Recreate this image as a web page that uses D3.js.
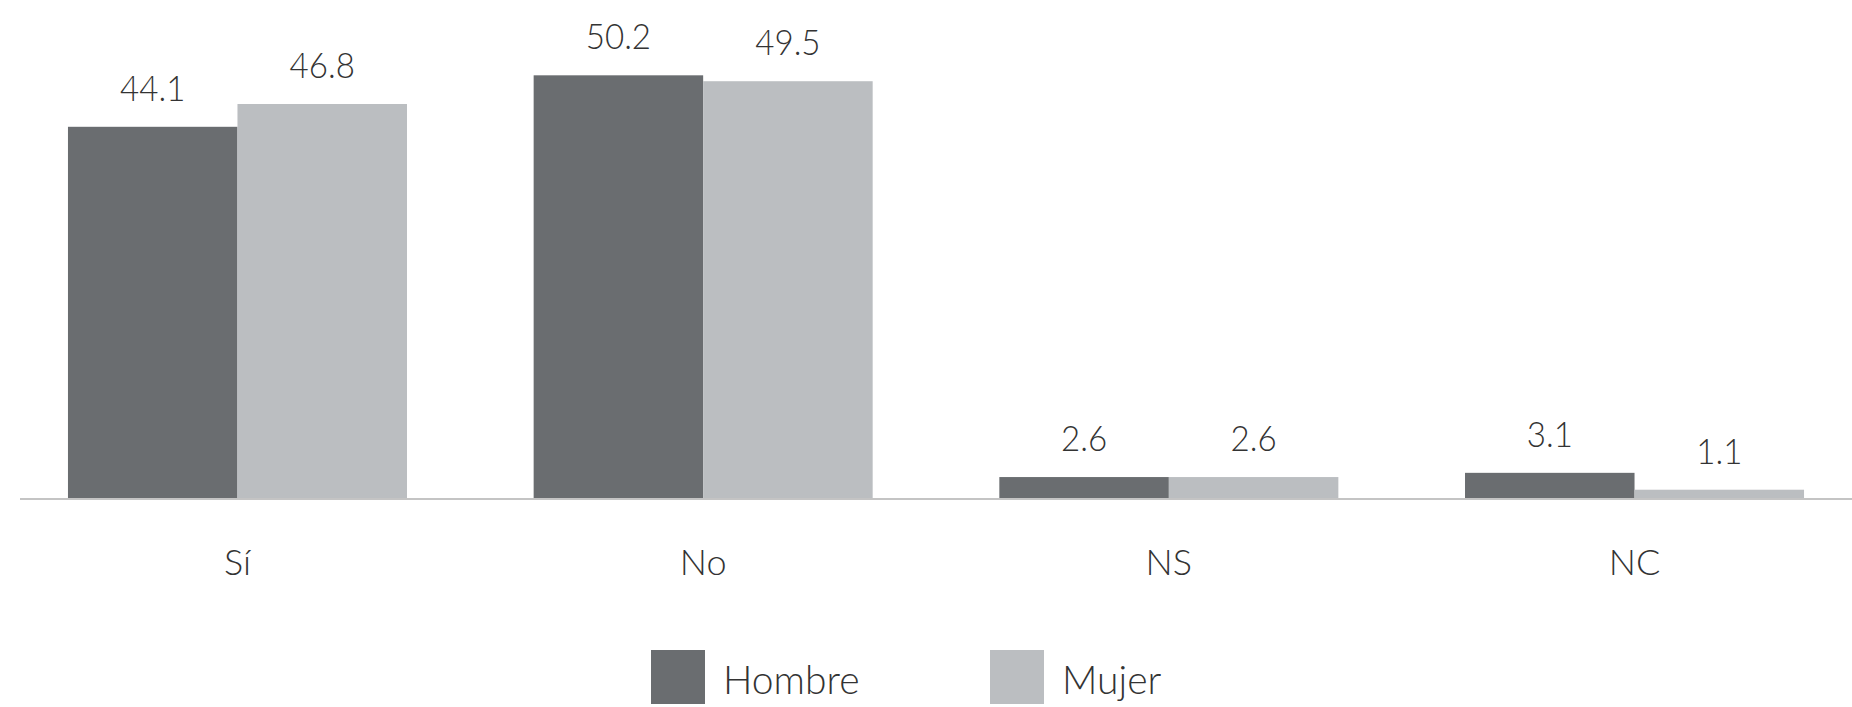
<!DOCTYPE html>
<html>
<head>
<meta charset="utf-8">
<script src="https://cdn.jsdelivr.net/npm/d3@7"></script>
<style>
  html, body { margin: 0; padding: 0; background: #fff; }
  svg { display: block; }
  text { font-family: Lato, "Open Sans", sans-serif; font-weight: 300; fill: #333; }
</style>
</head>
<body>
<svg id="chart" width="1852" height="707"></svg>
<script>
const categories = ["Sí", "No", "NS", "NC"];
const seriesNames = ["Hombre", "Mujer"];
const hombre = [44.1, 50.2, 2.6, 3.1];
const mujer = [46.8, 49.5, 2.6, 1.1];
const valueLabels = { Hombre: ["44.1", "50.2", "2.6", "3.1"], Mujer: ["46.8", "49.5", "2.6", "1.1"] };

const colors = { Hombre: "#6a6d70", Mujer: "#bbbec1" };

const W = 1852, H = 707;
const baseY = 499;
const svg = d3.select("#chart");

const x0 = d3.scaleBand().domain(categories).range([20, 1852]).paddingInner(0.272).paddingOuter(0.103);
const x1 = d3.scaleBand().domain(seriesNames).range([0, x0.bandwidth()]).padding(0);
const y = d3.scaleLinear().domain([0, 55]).range([baseY, baseY - 55 * 8.44]);

const rows = categories.map((c, i) => ({
  cat: c,
  vals: [
    { s: "Hombre", v: hombre[i], label: valueLabels.Hombre[i] },
    { s: "Mujer", v: mujer[i], label: valueLabels.Mujer[i] }
  ]
}));

const g = svg.append("g");
const groups = g.selectAll("g.grp").data(rows).join("g")
  .attr("class", "grp")
  .attr("transform", d => `translate(${x0(d.cat)},0)`);

groups.selectAll("rect").data(d => d.vals).join("rect")
  .attr("x", d => x1(d.s))
  .attr("y", d => y(d.v))
  .attr("width", x1.bandwidth())
  .attr("height", d => y(0) - y(d.v))
  .attr("fill", d => colors[d.s]);

groups.selectAll("text.val").data(d => d.vals).join("text")
  .attr("class", "val")
  .attr("text-anchor", "middle")
  .attr("font-size", 36)
  .attr("transform", d => `translate(${x1(d.s) + x1.bandwidth() / 2},${y(d.v) - 26}) scale(0.92,1)`)
  .text(d => d.label);

// x axis
const xAxis = d3.axisBottom(x0).tickSize(0).tickPadding(0);
const ax = svg.append("g").attr("transform", `translate(0,${baseY})`).call(xAxis);
ax.select(".domain").attr("stroke", "#c4c4c4").attr("stroke-width", 2).attr("d", "M20,0H1852");
ax.selectAll(".tick text")
  .attr("dy", null)
  .attr("y", 76)
  .attr("font-size", 36)
  .attr("font-family", null)
  .style("fill", "#333");

// legend
const legendX = [651, 990];
const leg = svg.append("g").selectAll("g").data(seriesNames).join("g")
  .attr("transform", (d, i) => `translate(${legendX[i]},650)`);
leg.append("rect").attr("width", 54).attr("height", 54).attr("fill", d => colors[d]);
leg.append("text").attr("x", 72).attr("y", 44).attr("font-size", 39).text(d => d);
</script>
</body>
</html>
